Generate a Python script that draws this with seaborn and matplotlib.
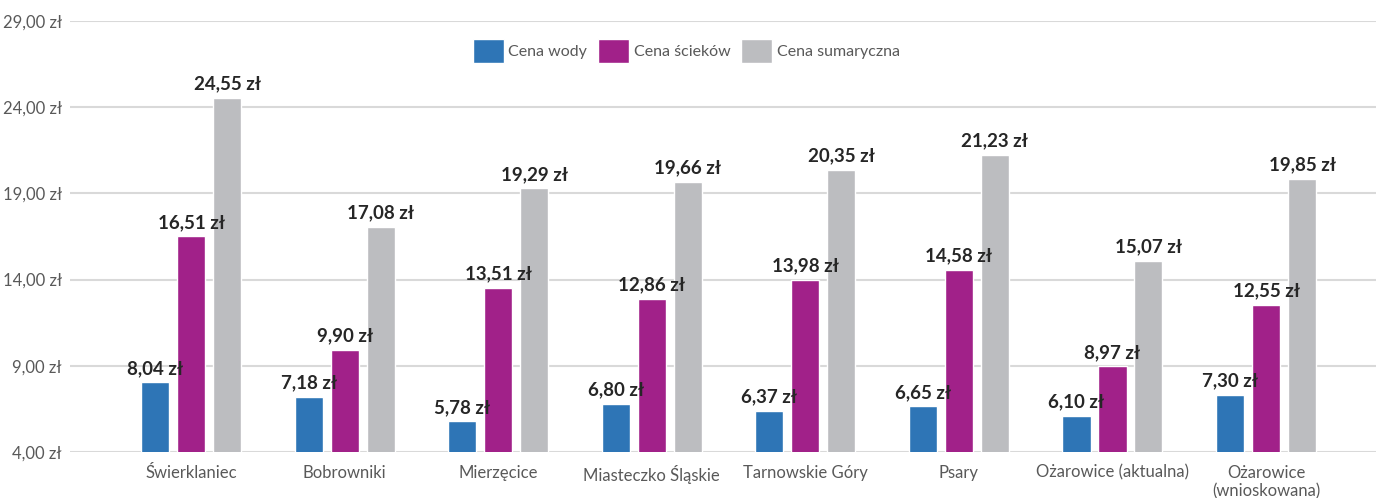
import seaborn as sns
import matplotlib.pyplot as plt
import pandas as pd

# data
gminy = ['Świerklaniec', 'Bobrowniki', 'Mierzęcice', 'Miasteczko Śląskie',
         'Tarnowskie Góry', 'Psary', 'Ożarowice (aktualna)', 'Ożarowice\n(wnioskowana)']
cena_wody = [8.04, 7.18, 5.78, 6.80, 6.37, 6.65, 6.10, 7.30]
cena_sciekow = [16.51, 9.90, 13.51, 12.86, 13.98, 14.58, 8.97, 12.55]
cena_sumaryczna = [24.55, 17.08, 19.29, 19.66, 20.35, 21.23, 15.07, 19.85]
series_names = ['Cena wody', 'Cena ścieków', 'Cena sumaryczna']
y_ticks = [4, 9, 14, 19, 24, 29]

colors = ['#2E75B6', '#A12189', '#BCBDC0']


def zl(v):
    """format a value as polish currency"""
    return f'{v:.2f} zł'.replace('.', ',')


df = pd.DataFrame({
    'gmina': gminy * 3,
    'cena': cena_wody + cena_sciekow + cena_sumaryczna,
    'typ': [s for s in series_names for _ in gminy],
})

sns.set_theme(style='white')
plt.rcParams['font.family'] = ['Lato', 'DejaVu Sans']

fig = plt.figure(figsize=(13.9, 4.98), dpi=100)
ax = fig.add_axes([70 / 1390, 46 / 498, 1306 / 1390, 431 / 498])

sns.barplot(data=df, x='gmina', y='cena', hue='typ', palette=colors,
            width=0.703, gap=0.22, ax=ax, saturation=1, legend=True)

# value labels above bars
for container in ax.containers:
    ax.bar_label(container, labels=[zl(v) for v in container.datavalues],
                 padding=4, fontsize=13.5, fontweight='bold', color='#262626')

ax.set_ylim(4, 29)
ax.set_xlim(-0.788, 7.716)
ax.set_yticks(y_ticks)
ax.set_yticklabels([zl(v) for v in y_ticks])
ax.yaxis.grid(True, color='#D9D9D9', linewidth=1.5)
ax.set_axisbelow(True)
for s in ax.spines.values():
    s.set_visible(False)
ax.tick_params(axis='both', length=0, labelsize=12, labelcolor='#595959')
ax.tick_params(axis='x', pad=9)
ax.tick_params(axis='y', pad=6)
ax.set_xlabel('')
ax.set_ylabel('')

ax.legend(loc='center', bbox_to_anchor=(0.472, 0.93), ncol=3, frameon=False,
          fontsize=11.5, labelcolor='#595959', handlelength=1.9, handleheight=1.9,
          handletextpad=0.3, columnspacing=0.7)

plt.savefig('out.png', dpi=100)
